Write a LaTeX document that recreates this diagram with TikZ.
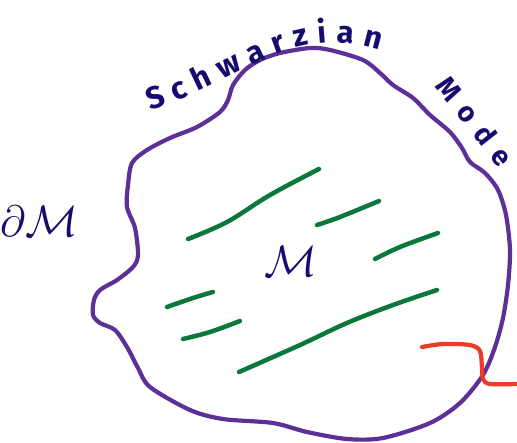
\RequirePackage{fix-cm}
\documentclass[tikz,border=0pt]{standalone}
\usepackage{fontspec}
\setmainfont{Fira Sans}
\usetikzlibrary{decorations.text}
\definecolor{navy}{RGB}{22,12,112}
\definecolor{bpurple}{RGB}{92,48,150}
\definecolor{sgreen}{RGB}{10,120,60}
\definecolor{rred}{RGB}{235,60,40}
\begin{document}
\begin{tikzpicture}[x=1pt,y=-1pt,
  boundary/.style={draw=bpurple, line width=4.2pt, line cap=round, line join=round},
  stroke/.style={draw=sgreen, line width=4.5pt, line cap=round, line join=round},
  redline/.style={draw=rred, line width=4.2pt, line cap=round, line join=round},
  hand/.style={text=navy, inner sep=0pt, font=\fontsize{28}{28}\selectfont\bfseries\addfontfeature{LetterSpace=40}},
  mathlbl/.style={text=navy, inner sep=0pt, font=\fontsize{44}{44}\selectfont}]
\useasboundingbox (0,0) rectangle (517,442);
% boundary of M
\draw[boundary] plot[smooth cycle, tension=0.5] coordinates {
 (128,185) (132,163) (147,150) (170,138) (197,127) (220,112) (228,100) (233,85)
 (245,70) (260,60) (280,53) (310,48) (330,50) (363,60) (380,73) (393,85)
 (413,98) (430,115) (450,132) (462,148) (470,162) (485,173) (498,190) (506,215)
 (510,250) (508,285) (503,318) (495,347) (483,375) (460,403) (430,423) (383,438)
 (347,439) (307,432) (273,423) (223,419) (190,410) (150,387) (138,368) (127,347)
 (115,330) (100,323) (93,315) (94,300) (100,290) (117,280) (133,267) (138,255)
 (135,228) (127,207)};
% green strokes
\draw[stroke] plot[smooth, tension=0.6] coordinates {(188,239) (227,222) (270,195) (319,169)};
\draw[stroke] plot[smooth, tension=0.6] coordinates {(317,225) (340,217) (379,201)};
\draw[stroke] plot[smooth, tension=0.6] coordinates {(375,259) (400,247) (438,233)};
\draw[stroke] plot[smooth, tension=0.6] coordinates {(167,307) (193,298) (213,292)};
\draw[stroke] plot[smooth, tension=0.6] coordinates {(183,339) (210,332) (240,321)};
\draw[stroke] plot[smooth, tension=0.6] coordinates {(239,372) (300,345) (347,323) (393,305) (437,290)};
% red curve
\draw[redline] plot[smooth, tension=0.5] coordinates {(422,347) (443,344) (470,345) (480,351) (482,368) (483,379) (490,384) (517,384)};
% labels
\path[decorate, decoration={text along path, text align={fit to path},
  text={|\color{navy}\fontsize{31}{31}\selectfont\bfseries|Schwarzian}}]
  (150,110) .. controls (245,80) and (290,22) .. (380,50);
\node[hand, rotate=-52, anchor=center] (mode) at (475,121) {Mode};
\node[mathlbl] (dM) at (39,221) {$\partial\mathcal{M}$};
\node[mathlbl] (M) at (291,261) {$\mathcal{M}$};
\end{tikzpicture}
\end{document}
